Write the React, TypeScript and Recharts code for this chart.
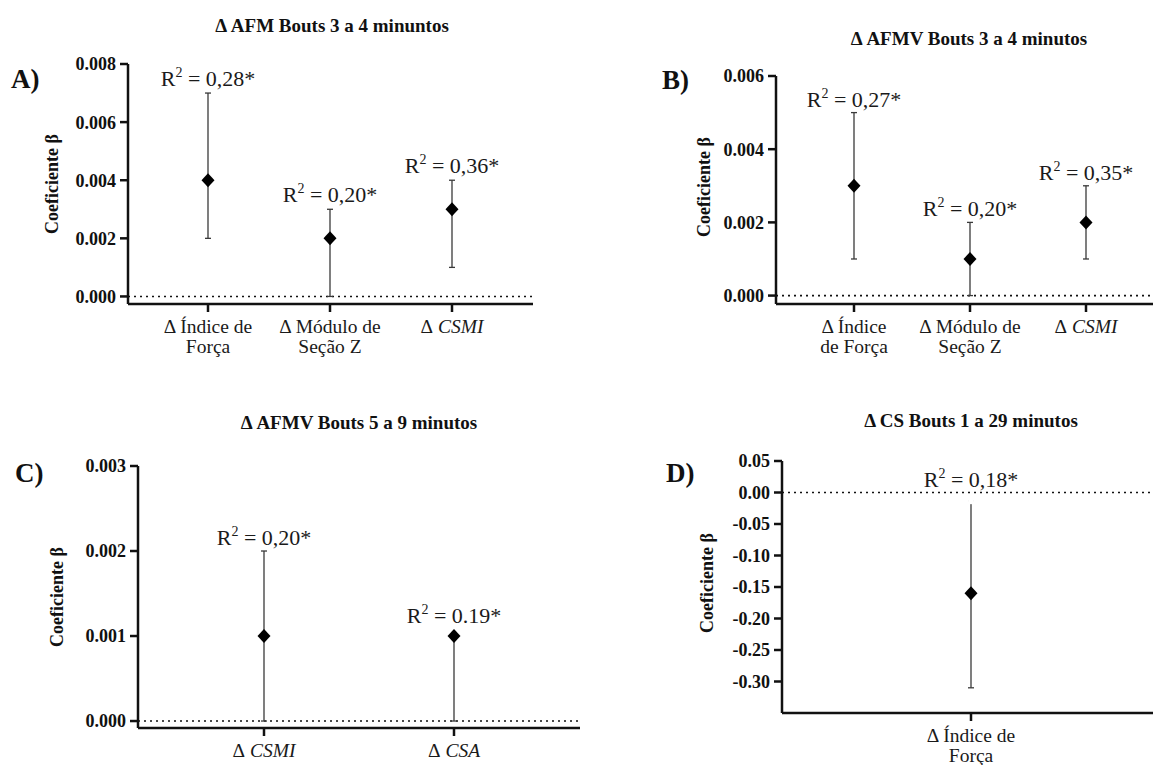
import {
  ComposedChart,
  ErrorBar,
  LabelList,
  Line,
  ReferenceLine,
  XAxis,
  YAxis,
} from "recharts";

const serif = '"Liberation Serif", "Times New Roman", Times, serif';

// A) Δ AFM Bouts 3 a 4 minutos
const categoriesA = ["Δ Índice de\nForça", "Δ Módulo de\nSeção Z", "Δ CSMI"];
const betaA = [0.004, 0.002, 0.003];
const lowerA = [0.002, 0.0, 0.001];
const upperA = [0.007, 0.003, 0.004];
const r2A = ["0,28", "0,20", "0,36"];
const ticksA = [0, 0.002, 0.004, 0.006, 0.008];

// B) Δ AFMV Bouts 3 a 4 minutos
const categoriesB = ["Δ Índice\nde Força", "Δ Módulo de\nSeção Z", "Δ CSMI"];
const betaB = [0.003, 0.001, 0.002];
const lowerB = [0.001, 0.0, 0.001];
const upperB = [0.005, 0.002, 0.003];
const r2B = ["0,27", "0,20", "0,35"];
const ticksB = [0, 0.002, 0.004, 0.006];

// C) Δ AFMV Bouts 5 a 9 minutos
const categoriesC = ["Δ CSMI", "Δ CSA"];
const betaC = [0.001, 0.001];
const lowerC = [0.0, 0.0];
const upperC = [0.002, 0.001];
const r2C = ["0,20", "0.19"];
const ticksC = [0, 0.001, 0.002, 0.003];

// D) Δ CS Bouts 1 a 29 minutos
const categoriesD = ["Δ Índice de\nForça"];
const betaD = [-0.16];
const lowerD = [-0.31];
const upperD = [-0.014];
const r2D = ["0,18"];
const ticksD = [0.05, 0, -0.05, -0.1, -0.15, -0.2, -0.25, -0.3];

const italicTerms = ["CSMI", "CSA"];

type Row = { name: string; beta: number; hi: number; err: [number, number]; r2: string };

function buildRows(cats: string[], beta: number[], lo: number[], hi: number[], r2: string[]): Row[] {
  return cats.map((name, i) => ({
    name,
    beta: beta[i],
    hi: hi[i],
    err: [beta[i] - lo[i], hi[i] - beta[i]],
    r2: r2[i],
  }));
}

function Diamond(props: any) {
  const { cx, cy } = props;
  if (cx == null || cy == null) return null;
  const w = 6.5;
  const h = 7;
  return (
    <polygon
      points={`${cx},${cy - h} ${cx + w},${cy} ${cx},${cy + h} ${cx - w},${cy}`}
      fill="#000"
    />
  );
}

function CategoryTick(props: any) {
  const { x, y, payload } = props;
  const lines = String(payload.value).split("\n");
  return (
    <text x={x} y={y} textAnchor="middle" fontFamily={serif} fontSize={19.5} fill="#1a1a1a">
      {lines.map((line, i) => (
        <tspan key={i} x={x} dy={i === 0 ? 19 : 20}>
          {line.split(" ").map((w, j) => (
            <tspan key={j} fontStyle={italicTerms.includes(w) ? "italic" : "normal"}>
              {(j > 0 ? " " : "") + w}
            </tspan>
          ))}
        </tspan>
      ))}
    </text>
  );
}

type PanelProps = {
  rows: Row[];
  ticks: number[];
  domain: [number, number];
  digits: number;
  plot: { x0: number; y0: number; x1: number; y1: number };
  pad: { left: number; right: number };
  lift: number;
};

function Panel({ rows, ticks, domain, digits, plot, pad, lift }: PanelProps) {
  const yw = 110;
  const top = 20;
  const xh = 70;
  const width = plot.x1 - plot.x0 + yw + 10;
  const height = plot.y1 - plot.y0 + top + xh;
  return (
    <div style={{ position: "absolute", left: plot.x0 - yw, top: plot.y0 - top }}>
      <ComposedChart
        width={width}
        height={height}
        data={rows}
        margin={{ top, right: 10, bottom: 0, left: 0 }}
      >
        <XAxis
          dataKey="name"
          type="category"
          scale="point"
          padding={pad}
          height={xh}
          interval={0}
          tickSize={8}
          axisLine={{ stroke: "#111", strokeWidth: 2.5 }}
          tickLine={{ stroke: "#111", strokeWidth: 2.5 }}
          tick={(p: any) => <CategoryTick {...p} />}
        />
        <YAxis
          type="number"
          domain={domain}
          ticks={ticks}
          interval={0}
          allowDataOverflow
          width={yw}
          tickSize={8}
          tickMargin={4}
          tickFormatter={(v: number) => v.toFixed(digits)}
          axisLine={{ stroke: "#111", strokeWidth: 2.5 }}
          tickLine={{ stroke: "#111", strokeWidth: 2.5 }}
          tick={{ fontFamily: serif, fontSize: 18, fontWeight: 700, fill: "#111" }}
        />
        <ReferenceLine y={0} stroke="#111" strokeWidth={1.6} strokeDasharray="2 4" />
        <Line
          dataKey="beta"
          stroke="none"
          isAnimationActive={false}
          activeDot={false}
          dot={(p: any) => <Diamond key={`d-${p.index}`} {...p} />}
        >
          <ErrorBar dataKey="err" width={3} stroke="#3a3a3a" strokeWidth={1.3} direction="y" />
        </Line>
        <Line dataKey="hi" stroke="none" dot={false} activeDot={false} isAnimationActive={false}>
          <LabelList
            dataKey="r2"
            content={(p: any) => {
              const row = rows[p.index];
              const up = row && row.hi === row.beta ? lift + 7 : lift;
              return (
                <text
                  key={`l-${p.index}`}
                  x={p.x}
                  y={p.y - up}
                  textAnchor="middle"
                  fontFamily={serif}
                  fontSize={22}
                  fill="#1a1a1a"
                >
                  R
                  <tspan fontSize={14} dy={-9}>2</tspan>
                  <tspan dy={9}>{" = " + p.value + "*"}</tspan>
                </text>
              );
            }}
          />
        </Line>
      </ComposedChart>
    </div>
  );
}

const rowsA = buildRows(categoriesA, betaA, lowerA, upperA, r2A);
const rowsB = buildRows(categoriesB, betaB, lowerB, upperB, r2B);
const rowsC = buildRows(categoriesC, betaC, lowerC, upperC, r2C);
const rowsD = buildRows(categoriesD, betaD, lowerD, upperD, r2D);

export default function App() {
  const titleStyle = { fontFamily: serif, fontSize: 19, fontWeight: 700, fill: "#111" };
  const letterStyle = { fontFamily: serif, fontSize: 27, fontWeight: 700, fill: "#111" };
  const ylabStyle = { fontFamily: serif, fontSize: 18, fontWeight: 700, fill: "#111" };
  return (
    <div
      style={{
        position: "absolute",
        left: 0,
        top: 0,
        width: 1153,
        height: 765,
        overflow: "hidden",
        background: "#fff",
      }}
    >
      <Panel
        rows={rowsA}
        ticks={ticksA}
        domain={[-0.00026, 0.008]}
        digits={3}
        plot={{ x0: 128, y0: 64, x1: 533, y1: 304 }}
        pad={{ left: 80, right: 81 }}
        lift={7}
      />
      <Panel
        rows={rowsB}
        ticks={ticksB}
        domain={[-0.00023, 0.006]}
        digits={3}
        plot={{ x0: 776, y0: 76, x1: 1163, y1: 304 }}
        pad={{ left: 78, right: 77 }}
        lift={6}
      />
      <Panel
        rows={rowsC}
        ticks={ticksC}
        domain={[-0.000082, 0.003]}
        digits={3}
        plot={{ x0: 138, y0: 466, x1: 580, y1: 728 }}
        pad={{ left: 126, right: 126 }}
        lift={6}
      />
      <Panel
        rows={rowsD}
        ticks={ticksD}
        domain={[-0.35, 0.05]}
        digits={2}
        plot={{ x0: 782, y0: 461, x1: 1160, y1: 713 }}
        pad={{ left: 0, right: 0 }}
        lift={14}
      />
      <svg
        width={1153}
        height={765}
        style={{ position: "absolute", left: 0, top: 0, pointerEvents: "none" }}
      >
        <text x={332} y={32} textAnchor="middle" style={titleStyle}>Δ AFM Bouts 3 a 4 minuntos</text>
        <text x={969} y={45} textAnchor="middle" style={titleStyle}>Δ AFMV Bouts 3 a 4 minutos</text>
        <text x={359} y={429} textAnchor="middle" style={titleStyle}>Δ AFMV Bouts 5 a 9 minutos</text>
        <text x={971} y={427} textAnchor="middle" style={titleStyle}>Δ CS Bouts 1 a 29 minutos</text>

        <text x={11} y={88} style={letterStyle}>A)</text>
        <text x={662} y={89} style={letterStyle}>B)</text>
        <text x={15} y={482} style={letterStyle}>C)</text>
        <text x={666} y={482} style={letterStyle}>D)</text>

        <text x={58} y={184} textAnchor="middle" transform="rotate(-90 58 184)" style={ylabStyle}>Coeficiente β</text>
        <text x={710} y={187} textAnchor="middle" transform="rotate(-90 710 187)" style={ylabStyle}>Coeficiente β</text>
        <text x={63} y={597} textAnchor="middle" transform="rotate(-90 63 597)" style={ylabStyle}>Coeficiente β</text>
        <text x={713} y={583} textAnchor="middle" transform="rotate(-90 713 583)" style={ylabStyle}>Coeficiente β</text>
      </svg>
    </div>
  );
}
